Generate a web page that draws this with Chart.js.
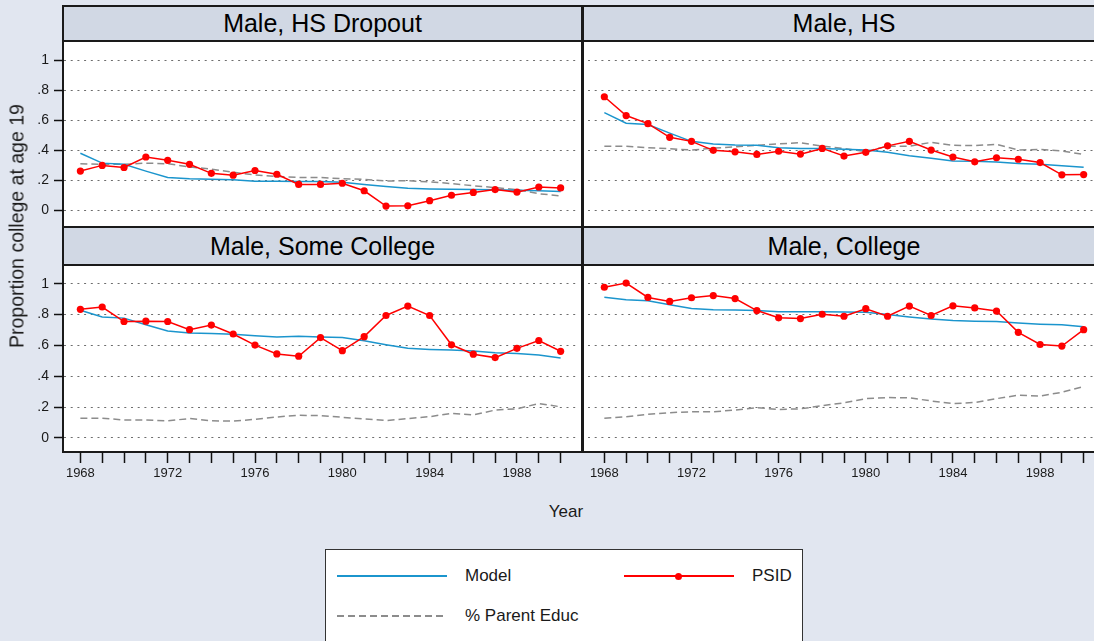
<!DOCTYPE html>
<html><head><meta charset="utf-8">
<script src="https://cdn.jsdelivr.net/npm/chart.js@4.4.0/dist/chart.umd.min.js"></script>
<style>
html,body{margin:0;padding:0;width:1094px;height:641px;overflow:hidden;background:#e1e6f0;font-family:"Liberation Sans",Arial,sans-serif;position:relative;}
.hdr{position:absolute;box-sizing:border-box;border:2px solid #1a1a1a;background:#d1d8e4;color:#000;font-size:25px;text-align:center;line-height:33px;white-space:nowrap;}
.box{position:absolute;box-sizing:border-box;border:2px solid #1a1a1a;background:#fff;}
canvas{position:absolute;}
.txt{position:absolute;color:#1a1a1a;white-space:nowrap;}
</style></head>
<body>
<div class="hdr" style="left:62px;top:5px;width:521px;height:37px;">Male, HS Dropout</div>
<div class="hdr" style="left:582px;top:5px;width:524px;height:37px;">Male, HS</div>
<div class="box" style="left:62px;top:40px;width:521px;height:188px;"></div>
<div class="box" style="left:582px;top:40px;width:524px;height:188px;"></div>
<div class="hdr" style="left:62px;top:226px;width:521px;height:40px;line-height:36px;">Male, Some College</div>
<div class="hdr" style="left:582px;top:226px;width:524px;height:40px;line-height:36px;">Male, College</div>
<div class="box" style="left:62px;top:264px;width:521px;height:189px;"></div>
<div class="box" style="left:582px;top:264px;width:524px;height:189px;"></div>

<canvas id="c1" width="571" height="184" style="left:10px;top:42px;"></canvas>
<canvas id="c2" width="520" height="184" style="left:584px;top:42px;"></canvas>
<canvas id="c3" width="571" height="225" style="left:10px;top:266px;"></canvas>
<canvas id="c4" width="520" height="225" style="left:584px;top:266px;"></canvas>

<div class="txt" style="left:17px;top:226px;font-size:19.5px;transform:translate(-50%,-50%) rotate(-90deg);">Proportion college at age 19</div>
<div class="txt" style="left:566px;top:512px;font-size:17px;transform:translate(-50%,-50%);">Year</div>

<div style="position:absolute;left:325px;top:549px;width:478px;height:120px;box-sizing:border-box;border:1.5px solid #333;background:#fff;"></div>
<div style="position:absolute;left:337px;top:575px;width:110px;height:1.5px;background:#1b95cd;"></div>
<div class="txt" style="left:465px;top:576px;font-size:17px;transform:translateY(-50%);">Model</div>
<div style="position:absolute;left:624px;top:575px;width:110px;height:1.5px;background:#ff0000;"></div>
<div style="position:absolute;left:675px;top:572.5px;width:7px;height:7px;border-radius:50%;background:#ff0000;"></div>
<div class="txt" style="left:752px;top:576px;font-size:17px;transform:translateY(-50%);">PSID</div>
<div style="position:absolute;left:337px;top:615px;width:110px;height:1.5px;background:repeating-linear-gradient(to right,#8c8c8c 0 7px,transparent 7px 11px);"></div>
<div class="txt" style="left:465px;top:616px;font-size:17px;transform:translateY(-50%);">% Parent Educ</div>

<script>
// ---- data ----
const years = [1968,1969,1970,1971,1972,1973,1974,1975,1976,1977,1978,1979,1980,1981,1982,1983,1984,1985,1986,1987,1988,1989,1990];
const xLabelYears = [1968,1972,1976,1980,1984,1988];
const yTickValues = [0,0.1,0.2,0.3,0.4,0.5,0.6,0.7,0.8,0.9,1];
const yLabelValues = [0,0.2,0.4,0.6,0.8,1];
const yLabelTexts = ["0",".2",".4",".6",".8","1"];

const dropoutModel  = [0.380,0.314,0.306,0.261,0.219,0.210,0.206,0.204,0.193,0.193,0.191,0.191,0.187,0.172,0.159,0.146,0.142,0.140,0.138,0.136,0.134,0.130,0.125];
const dropoutPSID   = [0.261,0.299,0.285,0.355,0.333,0.306,0.246,0.234,0.265,0.240,0.172,0.172,0.180,0.130,0.028,0.030,0.064,0.100,0.119,0.138,0.121,0.155,0.149];
const dropoutParent = [0.310,0.306,0.306,0.314,0.310,0.289,0.274,0.253,0.236,0.225,0.219,0.219,0.210,0.206,0.195,0.197,0.189,0.178,0.163,0.151,0.138,0.110,0.096];

const hsModel  = [0.650,0.580,0.571,0.514,0.459,0.442,0.435,0.433,0.416,0.412,0.412,0.406,0.401,0.386,0.363,0.346,0.329,0.327,0.321,0.312,0.306,0.297,0.287];
const hsPSID   = [0.756,0.631,0.577,0.486,0.459,0.399,0.389,0.372,0.393,0.374,0.412,0.361,0.386,0.429,0.459,0.401,0.355,0.323,0.350,0.340,0.318,0.236,0.238];
const hsParent = [0.427,0.427,0.416,0.410,0.401,0.414,0.423,0.433,0.442,0.450,0.427,0.412,0.391,0.427,0.427,0.452,0.433,0.431,0.439,0.401,0.406,0.395,0.372];

const someModel  = [0.828,0.785,0.777,0.734,0.694,0.681,0.677,0.672,0.662,0.655,0.660,0.655,0.651,0.630,0.604,0.581,0.574,0.570,0.564,0.553,0.547,0.538,0.519];
const somePSID   = [0.834,0.849,0.755,0.757,0.755,0.702,0.732,0.674,0.602,0.545,0.530,0.651,0.566,0.657,0.794,0.855,0.794,0.604,0.543,0.521,0.581,0.632,0.562];
const someParent = [0.128,0.128,0.117,0.117,0.111,0.126,0.111,0.109,0.121,0.136,0.147,0.145,0.134,0.123,0.113,0.126,0.138,0.160,0.149,0.181,0.189,0.223,0.202];

const collModel  = [0.913,0.896,0.889,0.864,0.840,0.832,0.830,0.826,0.819,0.819,0.819,0.817,0.815,0.800,0.785,0.772,0.762,0.757,0.755,0.745,0.738,0.734,0.721];
const collPSID   = [0.977,1.004,0.911,0.885,0.909,0.923,0.904,0.826,0.779,0.774,0.802,0.789,0.838,0.789,0.855,0.794,0.857,0.843,0.823,0.685,0.606,0.596,0.702];
const collParent = [0.128,0.138,0.153,0.164,0.170,0.170,0.181,0.196,0.185,0.189,0.209,0.228,0.255,0.262,0.260,0.240,0.223,0.230,0.255,0.277,0.272,0.296,0.334];

// ---- drawing ----
const FONT = '"Liberation Sans", Arial, sans-serif';
const near = (a, b) => Math.abs(a - b) < 1e-6;
const isMajor = v => yLabelValues.some(m => near(m, v));
const pts = arr => years.map((y, i) => ({x: y, y: arr[i]}));
const noPad = s => { s.paddingTop = 0; s.paddingBottom = 0; s.paddingLeft = 0; s.paddingRight = 0; };

function makePanel(id, model, psid, parent, o) {
  return new Chart(document.getElementById(id), {
    type: 'line',
    data: { datasets: [
      {label: 'PSID', data: pts(psid), borderColor: '#ff0000', backgroundColor: '#ff0000', borderWidth: 1.5, pointRadius: 3.6, pointBorderWidth: 0, tension: 0},
      {label: 'Model', data: pts(model), borderColor: '#1b95cd', borderWidth: 1.5, pointRadius: 0, tension: 0},
      {label: '% Parent Educ', data: pts(parent), borderColor: '#8c8c8c', borderWidth: 1.5, borderDash: [7, 4], pointRadius: 0, tension: 0}
    ]},
    options: {
      responsive: false, animation: false, devicePixelRatio: 1,
      layout: {padding: 0},
      plugins: {legend: {display: false}, tooltip: {enabled: false}},
      scales: {
        x: {
          type: 'linear', min: 1967.25, max: 1990.75, display: o.showX,
          afterBuildTicks: s => { s.ticks = years.map(v => ({value: v})); },
          afterFit: s => { s.height = o.showX ? 39 : 0; noPad(s); },
          grid: {drawOnChartArea: false, drawTicks: true, tickLength: 11, tickColor: '#111', tickWidth: 1.5},
          border: {display: false},
          ticks: {autoSkip: false, maxRotation: 0, minRotation: 0, padding: 3, color: '#1a1a1a', font: {family: FONT, size: 13},
                  callback: v => xLabelYears.includes(v) ? String(v) : ''}
        },
        y: {
          type: 'linear', min: o.ymin, max: o.ymax,
          afterBuildTicks: s => { s.ticks = yTickValues.map(v => ({value: v})); },
          afterFit: s => { s.width = o.yWidth; noPad(s); },
          grid: {
            color: c => (c.tick && isMajor(c.tick.value)) ? '#6e6e6e' : 'rgba(0,0,0,0)',
            lineWidth: 1,
            drawTicks: o.showY, tickLength: 10, tickColor: '#111', tickWidth: 1.5, tickBorderDash: []
          },
          border: {display: false, dash: [2, 4.7]},
          ticks: {display: o.showY, padding: 5, color: '#1a1a1a', font: {family: FONT, size: 14},
                  callback: v => { const i = yLabelValues.findIndex(m => near(m, v)); return i >= 0 ? yLabelTexts[i] : ''; }}
        }
      }
    }
  });
}

makePanel('c1', dropoutModel, dropoutPSID, dropoutParent, {showX: false, showY: true, yWidth: 54, ymin: -0.078, ymax: 1.094});
makePanel('c2', hsModel, hsPSID, hsParent, {showX: false, showY: false, yWidth: 0, ymin: -0.078, ymax: 1.094});
makePanel('c3', someModel, somePSID, someParent, {showX: true, showY: true, yWidth: 54, ymin: -0.091, ymax: 1.089});
makePanel('c4', collModel, collPSID, collParent, {showX: true, showY: false, yWidth: 0, ymin: -0.091, ymax: 1.089});
</script>
</body></html>
